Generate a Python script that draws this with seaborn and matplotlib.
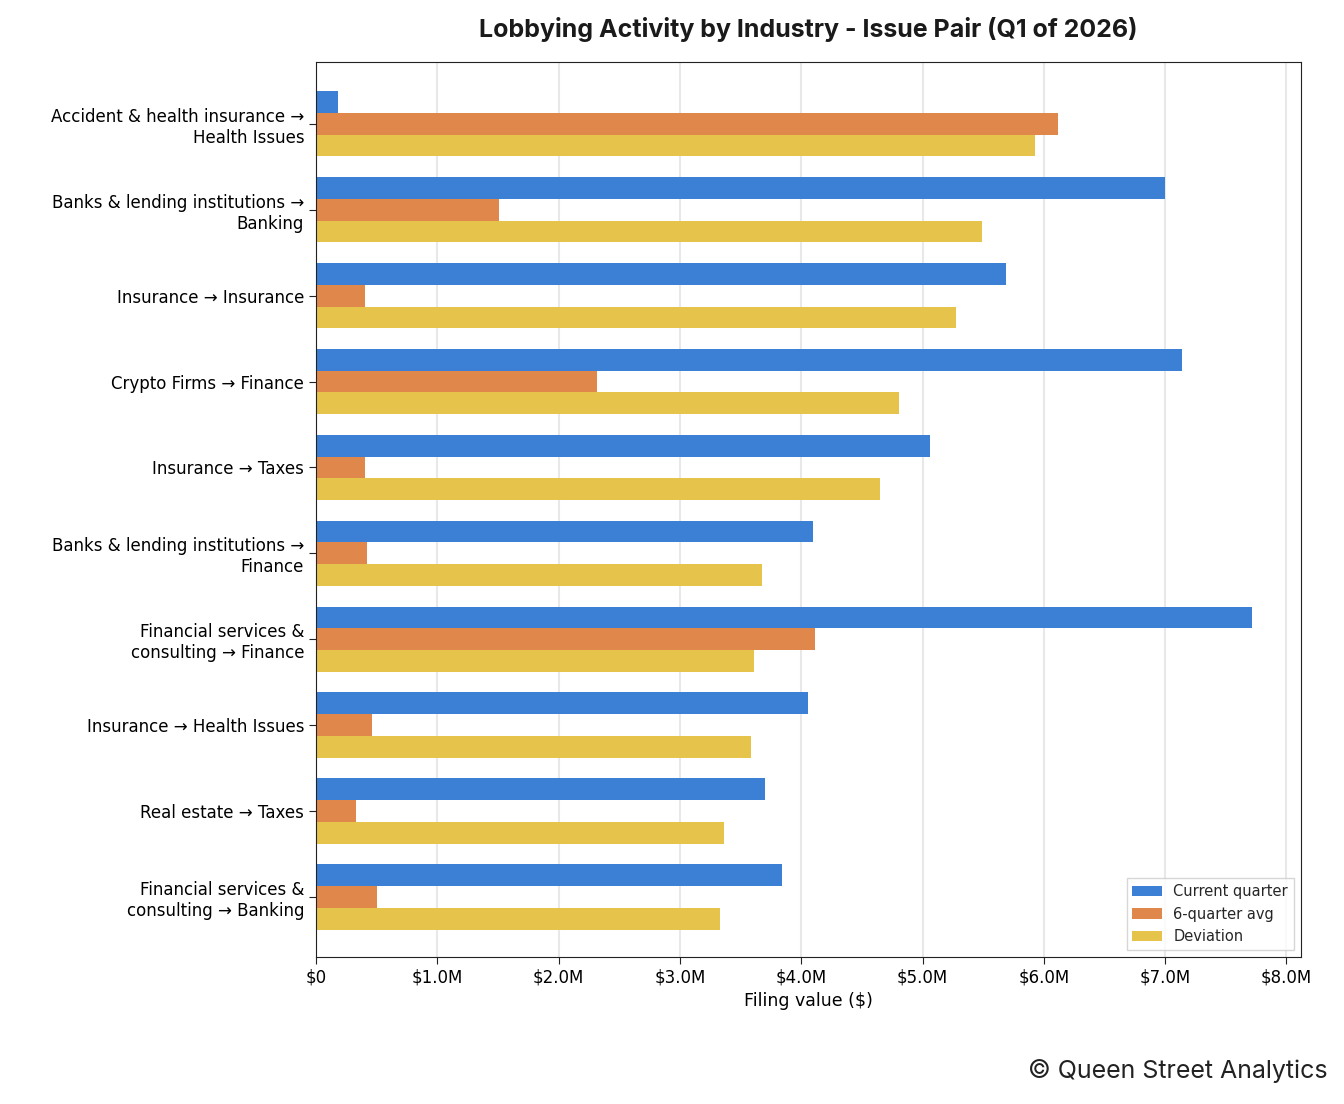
import matplotlib
matplotlib.use("Agg")
import matplotlib.pyplot as plt
import seaborn as sns
import pandas as pd
from matplotlib.ticker import FuncFormatter

pairs = [
    "Accident & health insurance →\nHealth Issues",
    "Banks & lending institutions →\nBanking",
    "Insurance → Insurance",
    "Crypto Firms → Finance",
    "Insurance → Taxes",
    "Banks & lending institutions →\nFinance",
    "Financial services &\nconsulting → Finance",
    "Insurance → Health Issues",
    "Real estate → Taxes",
    "Financial services &\nconsulting → Banking",
]
current = [0.18, 7.00, 5.69, 7.14, 5.06, 4.10, 7.72, 4.06, 3.70, 3.84]
avg6 = [6.12, 1.51, 0.40, 2.32, 0.40, 0.42, 4.11, 0.46, 0.33, 0.50]
deviation = [5.93, 5.49, 5.28, 4.81, 4.65, 3.68, 3.61, 3.59, 3.36, 3.33]
series = ["Current quarter", "6-quarter avg", "Deviation"]
colors = ["#3c80d6", "#e0884c", "#e6c34a"]

df = pd.DataFrame({"pair": pairs * 3,
                   "value": [v * 1e6 for v in current + avg6 + deviation],
                   "series": [s for s in series for _ in pairs]})

sns.set_style("white")
plt.rcParams['font.family'] = ['DejaVu Sans']

fig = plt.figure(figsize=(13.44, 11.04), dpi=100)
ax = fig.add_axes([316/1344, 1 - 957/1104, (1301-316)/1344, (957-62)/1104])
sns.barplot(data=df, y="pair", x="value", hue="series", palette=colors,
            orient="h", width=0.76, saturation=1, linewidth=0, ax=ax)
ax.set_xlim(0, 8.12e6)
ax.set_ylim(9.7, -0.72)
ax.xaxis.set_major_formatter(FuncFormatter(lambda v, p: "$0" if v == 0 else f"${v/1e6:.1f}M"))
ax.grid(axis="x", color="#e8e8e8", linewidth=1.5)
ax.set_axisbelow(True)
for s in ax.spines.values():
    s.set_color("#222222")
ax.tick_params(axis="both", labelsize=12, length=5, left=True, bottom=True,
               color="#222222", labelcolor="black")
ax.set_ylabel("")
ax.set_xlabel("Filing value ($)", fontsize=12.5, color="black")
ax.set_title("Lobbying Activity by Industry - Issue Pair (Q1 of 2026)",
             fontsize=18, fontweight="bold", pad=18, family=["Inter", "DejaVu Sans"],
             color="#1a1a1a")
ax.legend(loc="lower right", fontsize=10.5, frameon=True, edgecolor="#cccccc",
          fancybox=False, title=None)
fig.text(0.988, 0.024, "© Queen Street Analytics", ha="right", fontsize=18,
         color="#222222", family=["Inter", "DejaVu Sans"])
fig.savefig("out.png", dpi=100)
